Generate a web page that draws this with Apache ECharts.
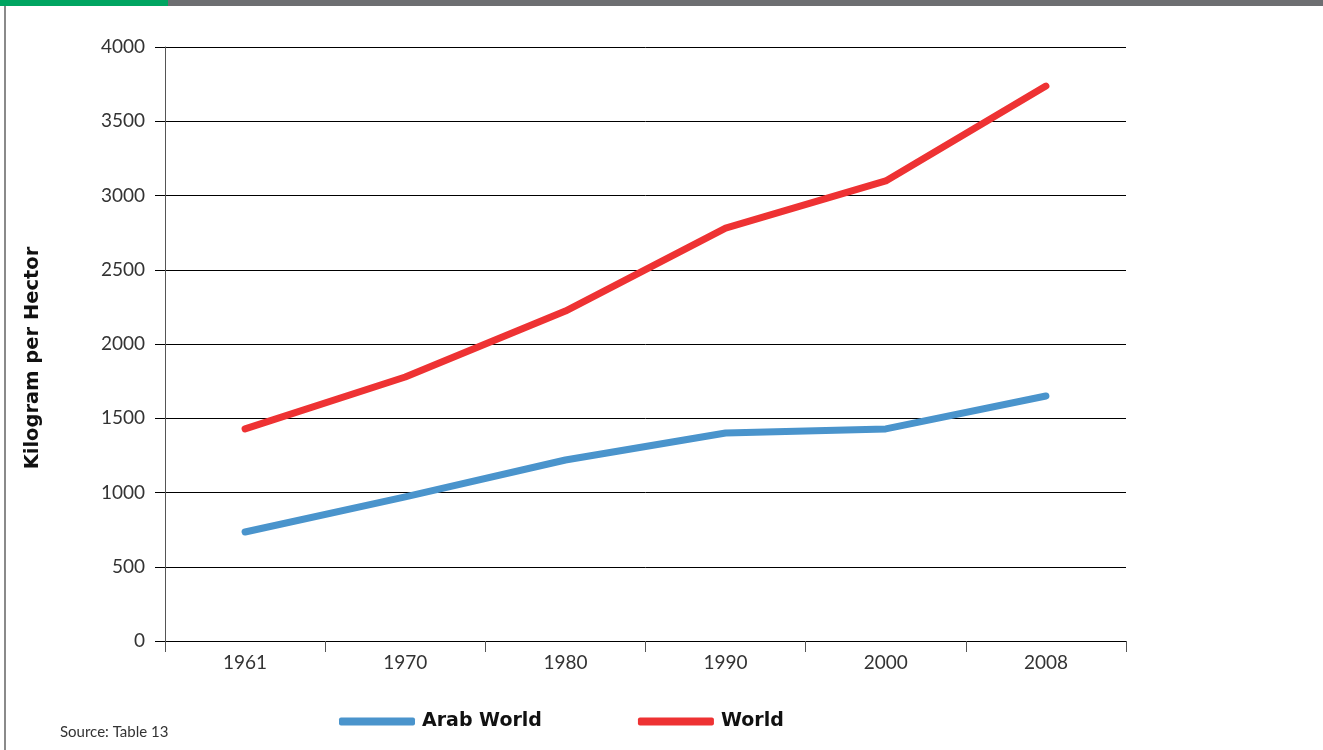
<!DOCTYPE html>
<html><head><meta charset="utf-8">
<script src="https://cdn.jsdelivr.net/npm/echarts@6/dist/echarts.min.js"></script>
<style>html,body{margin:0;padding:0;background:#fff;}#c{width:1323px;height:750px;}</style>
</head><body><div id="c"></div>
<script>
var years = ['1961','1970','1980','1990','2000','2008'];
var arabWorld = [734, 970, 1219, 1401, 1428, 1650];
var world = [1428, 1778, 2222, 2781, 3098, 3737];
var yTicks = {min: 0, max: 4000, interval: 500};

var chart = echarts.init(document.getElementById('c'));
var font = 'Lato, "Open Sans", sans-serif';
var boldFont = '"DejaVu Sans", sans-serif';
chart.setOption({
  animation: false,
  backgroundColor: '#fff',
  grid: {left: 165, right: 197, top: 47, bottom: 109},
  graphic: [
    {type: 'rect', shape: {x: 0, y: 0, width: 168, height: 6}, style: {fill: '#00a561'}},
    {type: 'rect', shape: {x: 168, y: 0, width: 1155, height: 6}, style: {fill: '#6d6e71'}},
    {type: 'rect', shape: {x: 4, y: 6, width: 2, height: 744}, style: {fill: '#8a8a8a'}},
    {type: 'text', left: 60, top: 725, style: {text: 'Source: Table 13', fontSize: 15, fill: '#333', fontFamily: font}}
  ],
  legend: {
    left: 334, top: 707,
    itemWidth: 76, itemHeight: 8, itemGap: 96,
    icon: 'roundRect',
    textStyle: {fontSize: 19, fontWeight: 'bold', color: '#111', fontFamily: boldFont, padding: [0,0,0,2]},
    data: ['Arab World', 'World']
  },
  xAxis: {
    type: 'category', data: years, boundaryGap: true,
    axisLine: {lineStyle: {color: '#000', width: 1}},
    axisTick: {show: true, alignWithLabel: false, length: 11, lineStyle: {color: '#555'}},
    axisLabel: {fontSize: 19, color: '#333', margin: 12, fontFamily: font}
  },
  yAxis: {
    type: 'value', min: yTicks.min, max: yTicks.max, interval: yTicks.interval,
    name: 'Kilogram per Hector', nameLocation: 'middle', nameGap: 122, nameRotate: 90,
    nameTextStyle: {fontSize: 19.5, fontWeight: 'bold', color: '#111', fontFamily: boldFont, padding: [0, 28, 0, 0]},
    axisLine: {show: true, lineStyle: {color: '#555', width: 1}},
    axisTick: {show: true, length: 10, lineStyle: {color: '#000'}},
    splitLine: {lineStyle: {color: '#000', width: 1}},
    axisLabel: {fontSize: 19, color: '#333', margin: 20, fontFamily: font, formatter: function (v) { return String(v); }}
  },
  series: [
    {name: 'Arab World', type: 'line', data: arabWorld, symbol: 'none',
     lineStyle: {width: 7, color: '#4a94cc', cap: 'round', join: 'round'}, itemStyle: {color: '#4a94cc'}},
    {name: 'World', type: 'line', data: world, symbol: 'none',
     lineStyle: {width: 7, color: '#ee3233', cap: 'round', join: 'round'}, itemStyle: {color: '#ee3233'}}
  ]
});
</script></body></html>
